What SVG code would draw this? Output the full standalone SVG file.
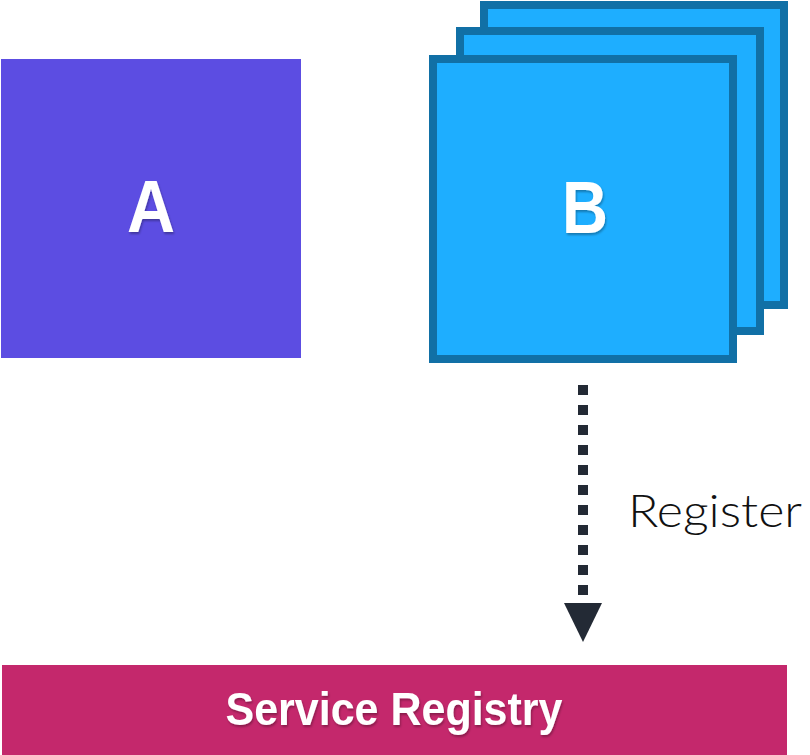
<svg xmlns="http://www.w3.org/2000/svg" width="810" height="755" viewBox="0 0 810 755">
  <style>
    .lbl { font-family: "Liberation Sans", Arial, sans-serif; font-weight: bold; fill: #ffffff; text-anchor: middle; filter: url(#sh); }
    .bcard { fill: #1EAEFF; stroke: #1170A6; stroke-width: 8; }
    .reg { font-family: Lato, "Open Sans", sans-serif; font-weight: 300; fill: #111111; font-size: 45px; }
  </style>
  <defs>
    <filter id="sh" x="-20%" y="-20%" width="140%" height="140%">
      <feDropShadow dx="1" dy="2" stdDeviation="1" flood-color="#000" flood-opacity="0.3"/>
    </filter>
    <marker id="arrow" viewBox="0 -20 40 40" refX="0" refY="0" markerWidth="40" markerHeight="40" markerUnits="userSpaceOnUse" orient="auto">
      <path d="M0,-19 L39,0 L0,19 z" fill="#232A35"/>
    </marker>
  </defs>
  <rect width="810" height="755" fill="#ffffff"/>

  <g id="nodeA">
    <rect x="1" y="59" width="300" height="299" fill="#5C4DE2"/>
    <text class="lbl" x="151" y="232" font-size="74" textLength="48" lengthAdjust="spacingAndGlyphs">A</text>
  </g>

  <g id="nodeB">
    <rect class="bcard" x="484" y="5" width="300" height="300"/>
    <rect class="bcard" x="460" y="31" width="300" height="300"/>
    <rect class="bcard" x="433" y="59" width="300" height="300"/>
    <text class="lbl" x="585" y="233" font-size="74" textLength="46" lengthAdjust="spacingAndGlyphs">B</text>
  </g>

  <g id="registry">
    <rect x="2" y="665" width="785" height="90" fill="#C4286C"/>
    <text class="lbl" x="394" y="725" font-size="46" textLength="337" lengthAdjust="spacingAndGlyphs">Service Registry</text>
  </g>

  <g id="connectors">
    <line x1="583" y1="385" x2="583" y2="603" stroke="#232A35" stroke-width="10" stroke-dasharray="10 10" marker-end="url(#arrow)"/>
    <text class="reg" x="628" y="527" textLength="174" lengthAdjust="spacingAndGlyphs">Register</text>
  </g>
</svg>
